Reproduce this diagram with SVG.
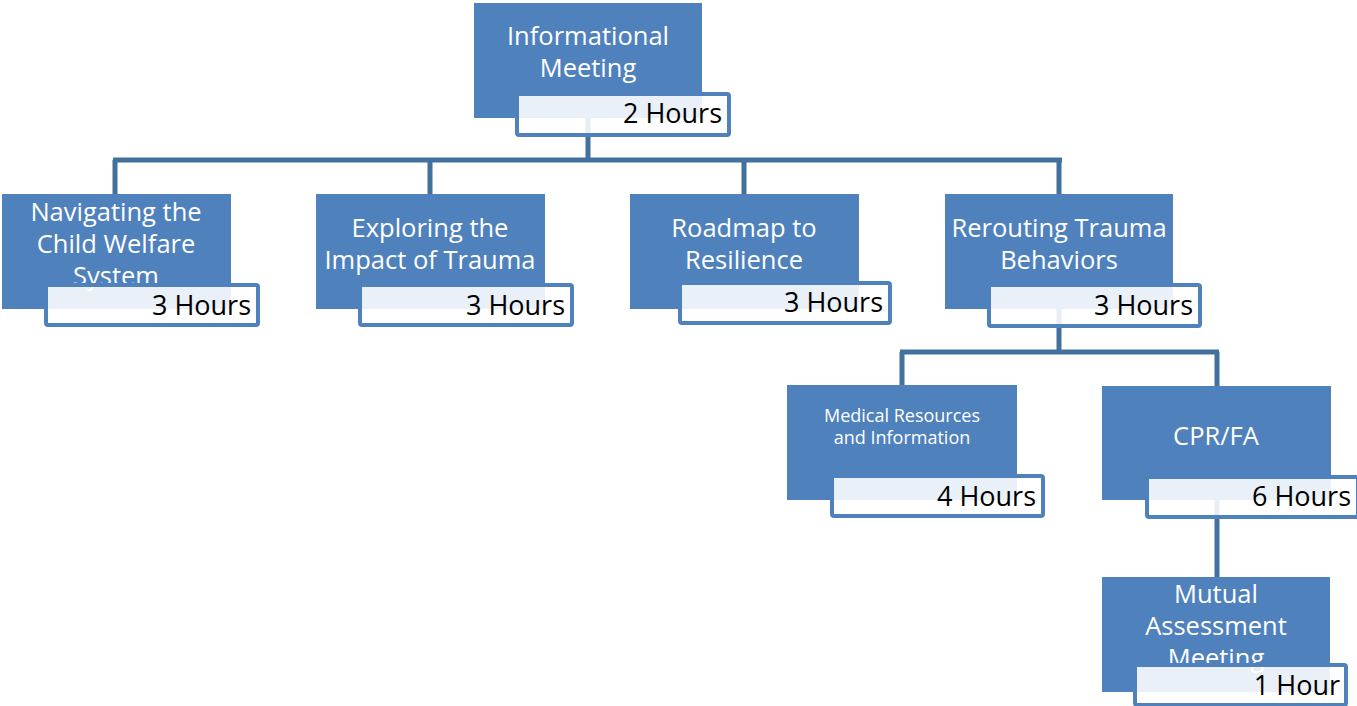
<svg xmlns="http://www.w3.org/2000/svg" width="1357" height="706" viewBox="0 0 1357 706">
<style>
.box{fill:#4f81bd}
.lbl{fill:#ffffff;fill-opacity:0.88;stroke:#4f81bd;stroke-width:4}
.t{font-family:"Open Sans","Liberation Sans",sans-serif;font-size:25.5px;fill:#ffffff;text-anchor:middle}
.ts{font-family:"Open Sans","Liberation Sans",sans-serif;font-size:18px;fill:#ffffff;text-anchor:middle}
.h{font-family:"Open Sans","Liberation Sans",sans-serif;font-size:27px;fill:#000000;text-anchor:end}
.c{fill:none;stroke:#41719c;stroke-width:5}
</style>
<rect width="1357" height="706" fill="#ffffff"/>
<g id="connectors">
<path class="c" d="M588,118 V160 M113,160 H1062 M115,160 V194 M430,160 V194 M744,160 V194 M1059,160 V194"/>
<path class="c" d="M1059,309 V352 M900,352 H1219 M902,352 V385 M1217,352 V386"/>
<path class="c" d="M1217,500 V577"/>
</g>
<g id="informational">
<rect class="box" x="474" y="3" width="228" height="115"/>
<text class="t" x="588" y="45">Informational</text>
<text class="t" x="588" y="77">Meeting</text>
<rect class="lbl" x="517" y="94" width="212" height="41" rx="2"/>
<text class="h" x="722" y="123">2 Hours</text>
</g>
<g id="navigating">
<rect class="box" x="2" y="194" width="229" height="115"/>
<text class="t" x="116" y="221">Navigating the</text>
<text class="t" x="116" y="253">Child Welfare</text>
<text class="t" x="116" y="285">System</text>
<rect class="lbl" x="46" y="285" width="212" height="40" rx="2"/>
<text class="h" x="251" y="315">3 Hours</text>
</g>
<g id="exploring">
<rect class="box" x="316" y="194" width="229" height="115"/>
<text class="t" x="430" y="237">Exploring the</text>
<text class="t" x="430" y="269">Impact of Trauma</text>
<rect class="lbl" x="360" y="285" width="212" height="40" rx="2"/>
<text class="h" x="565" y="315">3 Hours</text>
</g>
<g id="roadmap">
<rect class="box" x="630" y="194" width="229" height="115"/>
<text class="t" x="744" y="237">Roadmap to</text>
<text class="t" x="744" y="269">Resilience</text>
<rect class="lbl" x="680" y="283" width="210" height="40" rx="2"/>
<text class="h" x="883" y="312">3 Hours</text>
</g>
<g id="rerouting">
<rect class="box" x="945" y="194" width="228" height="115"/>
<text class="t" x="1059" y="237">Rerouting Trauma</text>
<text class="t" x="1059" y="269">Behaviors</text>
<rect class="lbl" x="989" y="285" width="211" height="41" rx="2"/>
<text class="h" x="1193" y="315">3 Hours</text>
</g>
<g id="medical">
<rect class="box" x="787" y="385" width="230" height="115"/>
<text class="ts" x="902" y="422">Medical Resources</text>
<text class="ts" x="902" y="444">and Information</text>
<rect class="lbl" x="832" y="476" width="211" height="40" rx="2"/>
<text class="h" x="1036" y="506">4 Hours</text>
</g>
<g id="cprfa">
<rect class="box" x="1102" y="386" width="229" height="114"/>
<text class="t" x="1216" y="445">CPR/FA</text>
<rect class="lbl" x="1147" y="477" width="211" height="40" rx="2"/>
<text class="h" x="1351" y="506">6 Hours</text>
</g>
<g id="mutual">
<rect class="box" x="1102" y="577" width="228" height="115"/>
<text class="t" x="1216" y="603">Mutual</text>
<text class="t" x="1216" y="635">Assessment</text>
<text class="t" x="1216" y="667">Meeting</text>
<rect class="lbl" x="1135" y="665" width="211" height="40" rx="2"/>
<text class="h" x="1340" y="695">1 Hour</text>
</g>
</svg>
